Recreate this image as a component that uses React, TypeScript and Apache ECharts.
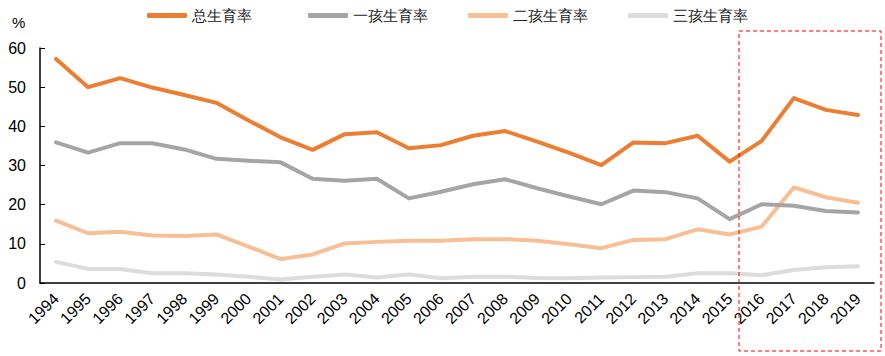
import React, { useEffect, useRef } from "react";
import * as echarts from "echarts";

const years = [
  "1994", "1995", "1996", "1997", "1998", "1999", "2000", "2001", "2002", "2003",
  "2004", "2005", "2006", "2007", "2008", "2009", "2010", "2011", "2012", "2013",
  "2014", "2015", "2016", "2017", "2018", "2019",
];
const totalRate = [57.2, 50.0, 52.3, 49.9, 48.0, 46.0, 41.5, 37.2, 34.0, 38.0, 38.5, 34.4, 35.2, 37.6, 38.8, 36.1, 33.2, 30.1, 35.9, 35.7, 37.6, 31.0, 36.3, 47.2, 44.2, 42.9];
const firstRate = [35.9, 33.3, 35.7, 35.7, 34.1, 31.7, 31.2, 30.8, 26.6, 26.1, 26.6, 21.6, 23.3, 25.2, 26.5, 24.2, 22.1, 20.1, 23.6, 23.2, 21.6, 16.3, 20.1, 19.7, 18.4, 18.0];
const secondRate = [15.9, 12.7, 13.1, 12.1, 12.0, 12.4, 9.3, 6.1, 7.3, 10.1, 10.5, 10.8, 10.8, 11.2, 11.2, 10.8, 9.9, 8.9, 11.0, 11.2, 13.7, 12.4, 14.4, 24.4, 21.9, 20.5];
const thirdRate = [5.4, 3.6, 3.6, 2.5, 2.5, 2.2, 1.6, 0.9, 1.6, 2.2, 1.4, 2.2, 1.2, 1.6, 1.6, 1.3, 1.2, 1.4, 1.5, 1.6, 2.5, 2.5, 2.0, 3.3, 4.0, 4.3];
const seriesNames = ["总生育率", "一孩生育率", "二孩生育率", "三孩生育率"];
const seriesColors = ["#ED7D31", "#A5A5A5", "#F8BF95", "#DCDCDC"];
const legendLefts = [142, 303, 463, 623];

export default function App() {
  const ref = useRef<HTMLDivElement>(null);
  useEffect(() => {
    if (!ref.current) return;
    const chart = echarts.init(ref.current, null, { renderer: "svg" });
    const data = [totalRate, firstRate, secondRate, thirdRate];
    const font = "Liberation Sans, Arial, sans-serif";
    chart.setOption({
      animation: false,
      textStyle: { fontFamily: font },
      legend: seriesNames.map((n, i) => ({
        left: legendLefts[i],
        top: 3,
        itemGap: 0,
        itemWidth: 40,
        itemHeight: 5,
        icon: "roundRect",
        textStyle: { fontSize: 15, color: "#222", fontFamily: font },
        data: [n],
      })),
      grid: { left: 40, right: 11, top: 48, bottom: 73, containLabel: false },
      xAxis: {
        type: "category",
        data: years,
        boundaryGap: true,
        axisLine: { lineStyle: { color: "#000", width: 1.5 } },
        axisTick: { inside: true, length: 5, lineStyle: { color: "#000" } },
        axisLabel: { rotate: 45, fontSize: 16, color: "#000", margin: 13, interval: 0, fontFamily: font },
        splitLine: { show: false },
      },
      yAxis: {
        type: "value",
        min: 0,
        max: 60,
        interval: 10,
        axisLine: { show: true, lineStyle: { color: "#000", width: 1.5 } },
        axisTick: { show: true, inside: true, length: 5, lineStyle: { color: "#000" } },
        axisLabel: { fontSize: 16, color: "#000", margin: 14, fontFamily: font },
        splitLine: { show: false },
      },
      series: seriesNames.map((n, i) => ({
        name: n,
        type: "line",
        data: data[i],
        symbol: "none",
        color: seriesColors[i],
        lineStyle: { width: 4, color: seriesColors[i], cap: "round", join: "round" },
        z: 10 - i,
      })),
      graphic: [
        {
          type: "text",
          left: 12,
          top: 15,
          style: { text: "%", fontSize: 15, fill: "#000", fontFamily: font },
        },
        {
          type: "rect",
          shape: { x: 739, y: 31, width: 142, height: 320 },
          style: { fill: "none", stroke: "#FF0000", lineWidth: 1, lineDash: [4, 3] },
          z: 100,
        },
      ],
    });
    return () => chart.dispose();
  }, []);
  return (
    <div
      ref={ref}
      style={{ position: "absolute", left: 0, top: 0, width: 885, height: 356, background: "#fff" }}
    />
  );
}
